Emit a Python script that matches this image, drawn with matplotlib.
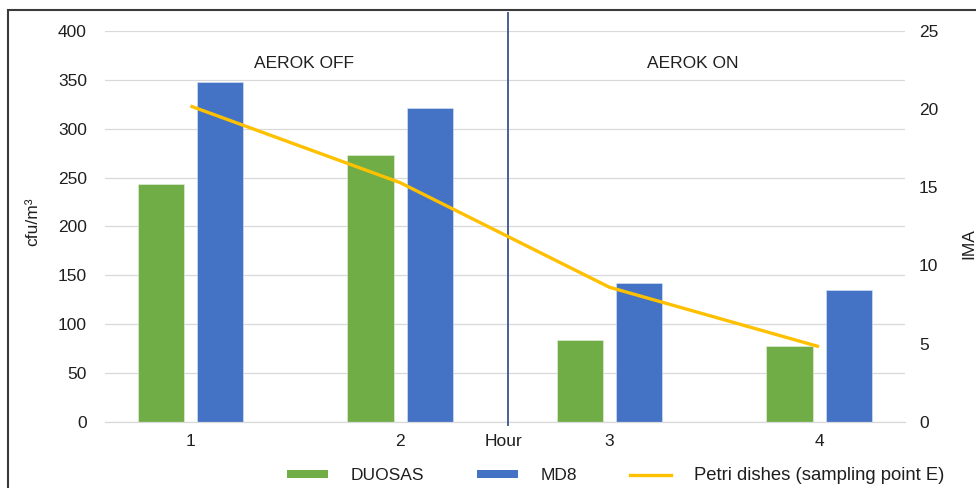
import matplotlib
matplotlib.use("Agg")
import matplotlib.pyplot as plt
from matplotlib.patches import Patch, Rectangle
from matplotlib.lines import Line2D
import numpy as np

plt.rcParams['font.family'] = ['Liberation Sans', 'DejaVu Sans']

categories = ["1", "2", "3", "4"]
duosas = [243, 273, 84, 78]
md8 = [348, 321, 142, 135]
petri = [20.2, 15.3, 8.6, 4.8]
left_ticks = [0, 50, 100, 150, 200, 250, 300, 350, 400]
right_ticks = [0, 5, 10, 15, 20, 25]

GREEN = "#70AD47"
BLUE = "#4472C4"
YELLOW = "#FFC000"
GRID = "#D9D9D9"
TXT = "#1f1f1f"

W, H = 976, 488
fig = plt.figure(figsize=(W / 100, H / 100), dpi=100)
ax = fig.add_axes([105 / W, 1 - 421.7 / H, 800 / W, 390.7 / H])

x = np.arange(len(categories))
bw = 0.22
off = 0.141
ax.bar(x - off, duosas, bw, color=GREEN, edgecolor="#e8f0e0", linewidth=0.4, zorder=2)
ax.bar(x + off, md8, bw, color=BLUE, edgecolor="#dde6f5", linewidth=0.4, zorder=2)

ax.set_xlim(-0.408, 3.41)
ax.set_ylim(0, 400)
ax.set_yticks(left_ticks)
ax.yaxis.grid(True, color=GRID, linewidth=0.9, zorder=0)
ax.set_axisbelow(True)
for s in ["top", "right", "left"]:
    ax.spines[s].set_visible(False)
ax.spines["bottom"].set_color(GRID)
ax.spines["bottom"].set_linewidth(0.9)
ax.set_xticks(x)
ax.set_xticklabels(categories)
ax.tick_params(axis="both", length=0, labelsize=12.5, colors=TXT)
ax.tick_params(axis="y", pad=13)
ax.tick_params(axis="x", pad=9)

ax2 = ax.twinx()
ax2.set_ylim(0, 25)
ax2.set_yticks(right_ticks)
for s in ["top", "right", "left", "bottom"]:
    ax2.spines[s].set_visible(False)
ax2.tick_params(axis="y", length=0, labelsize=12.5, colors=TXT, pad=10)
ax2.plot(x, petri, color=YELLOW, linewidth=2.4, solid_capstyle="butt", zorder=3)

# vertical divider between the two phases
ax.plot([1.516, 1.516], [-0.008, 1.046], color="#4a5f9a", linewidth=1.4,
        transform=ax.get_xaxis_transform(), clip_on=False, zorder=4)

fig.text(304 / W, 1 - 63 / H, "AEROK OFF", ha="center", va="center", fontsize=12.5, color=TXT)
fig.text(693 / W, 1 - 63 / H, "AEROK ON", ha="center", va="center", fontsize=12.5, color=TXT)
fig.text(503 / W, 1 - 441 / H, "Hour", ha="center", va="center", fontsize=12.5, color=TXT)
fig.text(33 / W, 1 - 222 / H, "cfu/m³", ha="center", va="center", rotation=90, fontsize=12.5, color=TXT)
fig.text(969 / W, 1 - 244 / H, "IMA", ha="center", va="center", rotation=90, fontsize=12.5, color=TXT)

handles = [Patch(facecolor=GREEN), Patch(facecolor=BLUE), Line2D([0], [0], color=YELLOW, linewidth=2.4)]
labels = ["DUOSAS", "MD8", "Petri dishes (sampling point E)"]
leg = fig.legend(handles, labels, loc="center left", bbox_to_anchor=(287 / W, 1 - 476 / H), ncol=3,
                 frameon=False, fontsize=12.5, handlelength=2.36, handleheight=0.35,
                 handletextpad=1.3, columnspacing=3.05, borderaxespad=0, borderpad=0)
for t in leg.get_texts():
    t.set_color(TXT)
leg.get_texts()[2].set_fontsize(13.3)

# outer chart frame (cropped at right/bottom)
fig.add_artist(Rectangle((8 / W, -0.2), 1.1, 1.2 - 10 / H, transform=fig.transFigure,
                         fill=False, edgecolor="#3a3a3a", linewidth=1.5))

fig.savefig("out.png", dpi=100)
